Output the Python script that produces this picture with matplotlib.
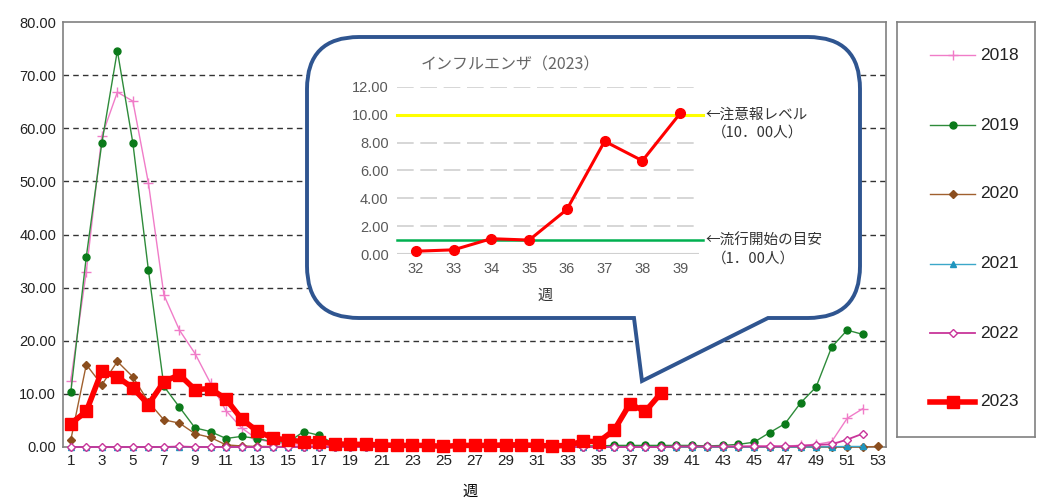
import numpy as np
import matplotlib
matplotlib.use('Agg')
import matplotlib.pyplot as plt
import matplotlib.transforms as mtransforms
from matplotlib.path import Path
from matplotlib.patches import PathPatch

plt.rcParams['font.family'] = ['Liberation Sans', 'Noto Sans CJK JP', 'DejaVu Sans']

# weekly values (per sentinel), week 1 ..
y2018 = [12.5, 33.0, 58.5, 66.8, 65.1, 49.7, 28.6, 22.0, 17.6, 12.0,
         6.8, 3.6, 1.5, 0.8, 0.5, 0.3, 0.2, 0.2, 0.1, 0.1,
         0.1, 0.1, 0.1, 0.1, 0.1, 0.1, 0.1, 0.1, 0.1, 0.1,
         0.1, 0.1, 0.1, 0.1, 0.1, 0.1, 0.1, 0.1, 0.1, 0.1,
         0.1, 0.1, 0.1, 0.1, 0.2, 0.2, 0.2, 0.3, 0.5, 1.0,
         5.4, 7.2]
y2019 = [10.3, 35.8, 57.2, 74.6, 57.2, 33.3, 11.4, 7.5, 3.6, 2.9,
         1.6, 2.0, 1.6, 1.0, 0.9, 2.9, 2.2, 0.5, 0.4, 0.4,
         0.3, 0.3, 0.3, 0.2, 0.2, 0.2, 0.2, 0.2, 0.2, 0.2,
         0.2, 0.2, 0.2, 0.2, 0.2, 0.3, 0.3, 0.3, 0.3, 0.3,
         0.3, 0.2, 0.3, 0.5, 0.9, 2.7, 4.4, 8.3, 11.3, 18.8,
         22.0, 21.2]
y2020 = [1.3, 15.5, 11.7, 16.1, 13.2, 8.5, 5.1, 4.5, 2.5, 1.8,
         0.4, 0.2, 0.1, 0.1, 0.1, 0.0, 0.0, 0.0, 0.0, 0.0,
         0.0, 0.0, 0.0, 0.0, 0.0, 0.0, 0.0, 0.0, 0.0, 0.0,
         0.0, 0.0, 0.0, 0.0, 0.0, 0.0, 0.0, 0.0, 0.0, 0.0,
         0.0, 0.0, 0.0, 0.0, 0.0, 0.0, 0.0, 0.0, 0.0, 0.0,
         0.0, 0.0, 0.1]
y2021 = [0.0, 0.0, 0.0, 0.0, 0.0, 0.0, 0.0, 0.0, 0.0, 0.0,
         0.0, 0.0, 0.0, 0.0, 0.0, 0.0, 0.0, 0.0, 0.0, 0.0,
         0.0, 0.0, 0.0, 0.0, 0.0, 0.0, 0.0, 0.0, 0.0, 0.0,
         0.0, 0.0, 0.0, 0.0, 0.0, 0.0, 0.0, 0.0, 0.0, 0.0,
         0.0, 0.0, 0.0, 0.0, 0.0, 0.0, 0.0, 0.0, 0.0, 0.05,
         0.1, 0.1]
y2022 = [0.0, 0.0, 0.0, 0.0, 0.0, 0.0, 0.0, 0.1, 0.0, 0.0,
         0.0, 0.0, 0.0, 0.0, 0.0, 0.0, 0.0, 0.0, 0.0, 0.0,
         0.0, 0.0, 0.0, 0.0, 0.0, 0.0, 0.0, 0.0, 0.0, 0.0,
         0.0, 0.0, 0.0, 0.0, 0.0, 0.0, 0.0, 0.0, 0.0, 0.1,
         0.1, 0.1, 0.1, 0.1, 0.1, 0.1, 0.1, 0.2, 0.4, 0.5,
         1.4, 2.5]
y2023 = [4.4, 6.7, 14.3, 13.2, 11.1, 8.0, 12.3, 13.6, 10.8, 11.0,
         9.0, 5.3, 3.0, 1.7, 1.3, 1.0, 1.0, 0.6, 0.5, 0.5,
         0.4, 0.3, 0.3, 0.3, 0.1, 0.3, 0.3, 0.3, 0.4, 0.4,
         0.3, 0.2, 0.3, 1.1, 1.0, 3.2, 8.1, 6.7, 10.1]

years = ['2018', '2019', '2020', '2021', '2022', '2023']
series = [y2018, y2019, y2020, y2021, y2022, y2023]
styles = [
    dict(color='#F07CC8', lw=1.0, marker='+', ms=7, mew=1.0),
    dict(color='#2E8B3A', lw=1.0, marker='o', ms=5, mfc='#0B7A1A', mec='#0B7A1A'),
    dict(color='#A0602E', lw=1.0, marker='D', ms=4, mfc='#8B4E1E', mec='#8B4E1E'),
    dict(color='#3BA7C9', lw=1.0, marker='^', ms=5, mfc='#1F95BE', mec='#1F95BE'),
    dict(color='#C8359A', lw=1.3, marker='D', ms=4, mfc='white', mec='#C8359A', mew=1.0),
    dict(color='#FF0000', lw=4.0, marker='s', ms=9),
]

inset_weeks = [32, 33, 34, 35, 36, 37, 38, 39]
alert_level = 10.0
start_level = 1.0

W, H = 1042, 500
fig = plt.figure(figsize=(W / 100, H / 100), dpi=100)

# main chart
ax = fig.add_axes([63 / W, 1 - 447 / H, (886 - 63) / W, (447 - 22) / H])
for yv in range(10, 80, 10):
    ax.axhline(yv, color='#333333', lw=1.0, ls=(0, (4, 3)), zorder=1)
for vals, st in zip(series, styles):
    ax.plot(np.arange(1, len(vals) + 1), vals, clip_on=False, zorder=3, **st)
ax.set_xlim(0.5, 53.5)
ax.set_ylim(0, 80)
ax.set_yticks(np.arange(0, 81, 10))
ax.set_yticklabels(['%.2f' % v for v in np.arange(0, 81, 10)], fontsize=10.5, color='#222222')
ax.set_xticks(np.arange(1, 54, 2))
ax.set_xticklabels([str(w) for w in range(1, 54, 2)], fontsize=11, color='#222222')
ax.tick_params(length=0, pad=5)
for sp in ax.spines.values():
    sp.set_color('#808080')
    sp.set_linewidth(1.2)
fig.text(470 / W, 1 - 492 / H, '週', fontsize=11, ha='center', va='center')

# callout balloon (pixel coords, y down)
pix = mtransforms.Affine2D().scale(1 / W, -1 / H).translate(0, 1) + fig.transFigure
L, T, R, B, r = 307, 37, 860, 318, 52
verts = [(L + r, T), (R - r, T), (R, T), (R, T + r), (R, B - r), (R, B), (R - r, B),
         (768, B), (642, 381), (634, B), (L + r, B), (L, B), (L, B - r),
         (L, T + r), (L, T), (L + r, T), (L + r, T)]
codes = [Path.MOVETO, Path.LINETO, Path.CURVE3, Path.CURVE3, Path.LINETO, Path.CURVE3, Path.CURVE3,
         Path.LINETO, Path.LINETO, Path.LINETO, Path.LINETO, Path.CURVE3, Path.CURVE3,
         Path.LINETO, Path.CURVE3, Path.CURVE3, Path.CLOSEPOLY]
balloon = PathPatch(Path(verts, codes), transform=pix, facecolor='white',
                    edgecolor='#2F5590', lw=2.8, zorder=5)
fig.patches.append(balloon)

# inset chart
axi = fig.add_axes([397 / W, 1 - 254 / H, (699 - 397) / W, (254 - 87) / H], zorder=6)
axi.patch.set_alpha(0)
for yv in range(2, 13, 2):
    axi.axhline(yv, color='#D0D0D0', lw=1.2, ls=(0, (10, 4)), zorder=1)
axi.axhline(0, color='#D0D0D0', lw=1.5, zorder=1)
axi.plot([31.5, 39.6], [alert_level, alert_level], color='#FFFF00', lw=2.2, clip_on=False, zorder=2)
axi.plot([31.5, 39.6], [start_level, start_level], color='#00B050', lw=1.8, clip_on=False, zorder=2)
axi.plot(inset_weeks, y2023[31:39], color='#FF0000', lw=2.2, marker='o', ms=7, clip_on=False, zorder=3)
axi.set_xlim(31.5, 39.5)
axi.set_ylim(0, 12)
axi.set_yticks(np.arange(0, 13, 2))
axi.set_yticklabels(['%.2f' % v for v in np.arange(0, 13, 2)], fontsize=10.5, color='#595959')
axi.set_xticks(inset_weeks)
axi.set_xticklabels([str(w) for w in inset_weeks], fontsize=10.5, color='#595959')
axi.tick_params(length=0, pad=6)
for sp in axi.spines.values():
    sp.set_visible(False)

cjk = ['Noto Sans CJK JP', 'DejaVu Sans']
txt = dict(zorder=10, va='center')
fig.text(421 / W, 1 - 65 / H, 'インフルエンザ（2023）', fontsize=11.5, color='#666666',
         family=cjk, **txt)
fig.text(545 / W, 1 - 296 / H, '週', fontsize=11, color='#333333', ha='center', **txt)
fig.text(705 / W, 1 - 115 / H, '←注意報レベル', fontsize=10.5, color='#333333', family=cjk, **txt)
fig.text(712 / W, 1 - 133 / H, '（10．00人）', fontsize=10.5, color='#333333', family=cjk, **txt)
fig.text(705 / W, 1 - 241 / H, '←流行開始の目安', fontsize=10.5, color='#333333', family=cjk, **txt)
fig.text(712 / W, 1 - 259 / H, '（1．00人）', fontsize=10.5, color='#333333', family=cjk, **txt)

# legend box
axl = fig.add_axes([897 / W, 1 - 437 / H, (1035 - 897) / W, (437 - 22) / H])
axl.set_xlim(0, 138)
axl.set_ylim(415, 0)
axl.set_xticks([])
axl.set_yticks([])
for sp in axl.spines.values():
    sp.set_color('#808080')
    sp.set_linewidth(1.2)
leg_y = [33, 103, 172, 242, 311, 380]
for lab, st, yy in zip(years, styles, leg_y):
    axl.plot([33, 55.5, 78], [yy, yy, yy], markevery=[1], **st)
    axl.text(83, yy, lab, fontsize=12.5, va='center', color='#222222')

fig.savefig('out.png', dpi=100)
